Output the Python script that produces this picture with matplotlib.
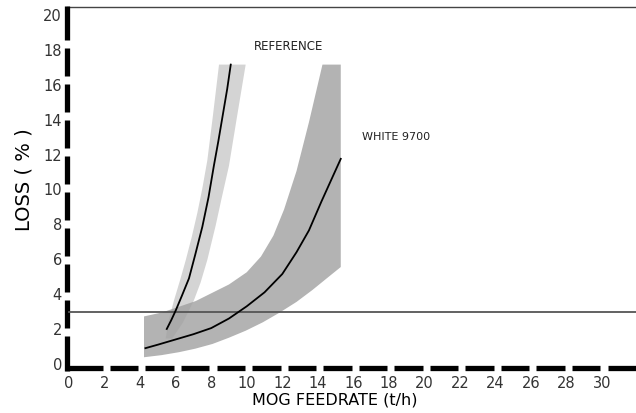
import matplotlib
matplotlib.use("Agg")
import matplotlib.pyplot as plt

# ---- data ----
ref_curve_x = [5.5, 5.75, 6.0, 6.35, 6.75, 7.1, 7.5, 7.85, 8.15, 8.4, 8.65, 8.9, 9.1]
ref_curve_y = [1.95, 2.45, 3.0, 3.85, 4.85, 6.2, 7.8, 9.5, 11.3, 12.7, 14.2, 15.7, 17.1]

white_curve_x = [4.3, 5.0, 6.0, 7.0, 8.0, 9.0, 10.0, 11.0, 12.0, 12.8, 13.5, 14.2, 14.8, 15.29]
white_curve_y = [0.85, 1.05, 1.35, 1.65, 2.0, 2.55, 3.25, 4.05, 5.1, 6.35, 7.6, 9.25, 10.6, 11.7]

# reference band: left edge (bottom->top), right edge (top->bottom)
ref_band_left_x = [5.44, 5.6, 5.91, 6.25, 6.57, 6.9, 7.22, 7.5, 7.78, 8.1, 8.44]
ref_band_left_y = [1.4, 2.4, 3.6, 4.75, 5.9, 7.2, 8.6, 10.0, 11.6, 14.2, 17.1]
ref_band_right_x = [9.94, 9.45, 9.0, 8.6, 8.25, 7.78, 7.4, 7.03, 6.4, 5.8]
ref_band_right_y = [17.1, 14.1, 11.3, 9.5, 7.87, 5.9, 4.6, 3.6, 2.3, 1.4]

# white 9700 band: upper edge (left->right), then lower edge (right->left)
white_band_upper_x = [4.22, 4.22, 5.25, 7.13, 9.0, 10.0, 10.8, 11.5, 12.1, 12.8, 13.5, 14.26, 15.29]
white_band_upper_y = [0.33, 2.67, 2.9, 3.55, 4.5, 5.2, 6.1, 7.3, 8.8, 11.0, 13.8, 17.1, 17.1]
white_band_lower_x = [15.29, 14.5, 13.69, 12.8, 11.82, 10.9, 9.94, 9.0, 8.07, 7.1, 6.19, 5.2, 4.22]
white_band_lower_y = [5.5, 4.85, 4.18, 3.5, 2.87, 2.33, 1.85, 1.45, 1.09, 0.82, 0.62, 0.45, 0.33]

threshold = 2.9

x_ticks = list(range(0, 31, 2))
y_ticks = list(range(0, 21, 2))

label_ref = "REFERENCE"
label_white = "WHITE 9700"
xlabel = "MOG FEEDRATE (t/h)"
ylabel = "LOSS ( % )"

# ---- figure ----
fig = plt.figure(figsize=(6.36, 4.14), dpi=100)
ax = fig.add_axes([69/636, 50/414, 567/636, 349/414])
ax.set_xlim(0, 31.9)
ax.set_ylim(0, 20)
for s in ax.spines.values():
    s.set_visible(False)

# bands
ax.fill(white_band_upper_x + white_band_lower_x,
        white_band_upper_y + white_band_lower_y,
        color="#b3b3b3", lw=0, zorder=1)
ax.fill(ref_band_left_x + ref_band_right_x,
        ref_band_left_y + ref_band_right_y,
        color="#a0a0a0", alpha=0.45, lw=0, zorder=2)

# curves
ax.plot(ref_curve_x, ref_curve_y, color="black", lw=1.3, zorder=4)
ax.plot(white_curve_x, white_curve_y, color="black", lw=1.3, zorder=4)

# threshold line
ax.plot([0, 31.9], [threshold, threshold], color="#555555", lw=1.3,
        zorder=3, clip_on=False)

# top border
ax.plot([-0.1, 31.9], [20.4, 20.4], color="#444444", lw=1.0, clip_on=False)

# dashed thick axes
xa_y = -0.29
gap_x = 0.2
xs = [-0.25] + [t + 0.1 for t in x_ticks[1:]] + [32.5]
for i in range(len(xs) - 1):
    a = xs[i] + (gap_x if i > 0 else 0)
    b = xs[i + 1] - gap_x
    ax.plot([a, b], [xa_y, xa_y], color="black", lw=3.8,
            solid_capstyle="butt", clip_on=False)

ya_x = -0.1
gap_y = 0.23
ys = [-0.45] + [1.8 + 2.06 * k for k in range(9)] + [20.45]
for i in range(len(ys) - 1):
    a = ys[i] + (gap_y if i > 0 else 0)
    b = ys[i + 1] - (gap_y if i < len(ys) - 2 else 0)
    ax.plot([ya_x, ya_x], [a, b], color="black", lw=3.8,
            solid_capstyle="butt", clip_on=False)

# ticks
ax.set_xticks(x_ticks)
ax.set_xticklabels([str(t) for t in x_ticks])
ax.set_yticks(y_ticks)
ax.set_yticklabels([str(t) for t in y_ticks])
ax.tick_params(axis="x", length=0, pad=8.5, labelsize=10.5, labelcolor="#333333")
ax.tick_params(axis="y", length=0, pad=5, labelsize=10.5, labelcolor="#333333")

# annotations
ax.text(12.35, 18.17, label_ref, fontsize=8.5, ha="center", va="center",
        color="#222222")
ax.text(16.5, 13.0, label_white, fontsize=8, ha="left", va="center",
        color="#222222")

fig.text(335/636, 14/414, xlabel, fontsize=11.5, ha="center", va="center")
fig.text(24.5/636, 1 - 180/414, ylabel, fontsize=14, ha="center", va="center",
         rotation=90)

fig.savefig("out.png", dpi=100)
